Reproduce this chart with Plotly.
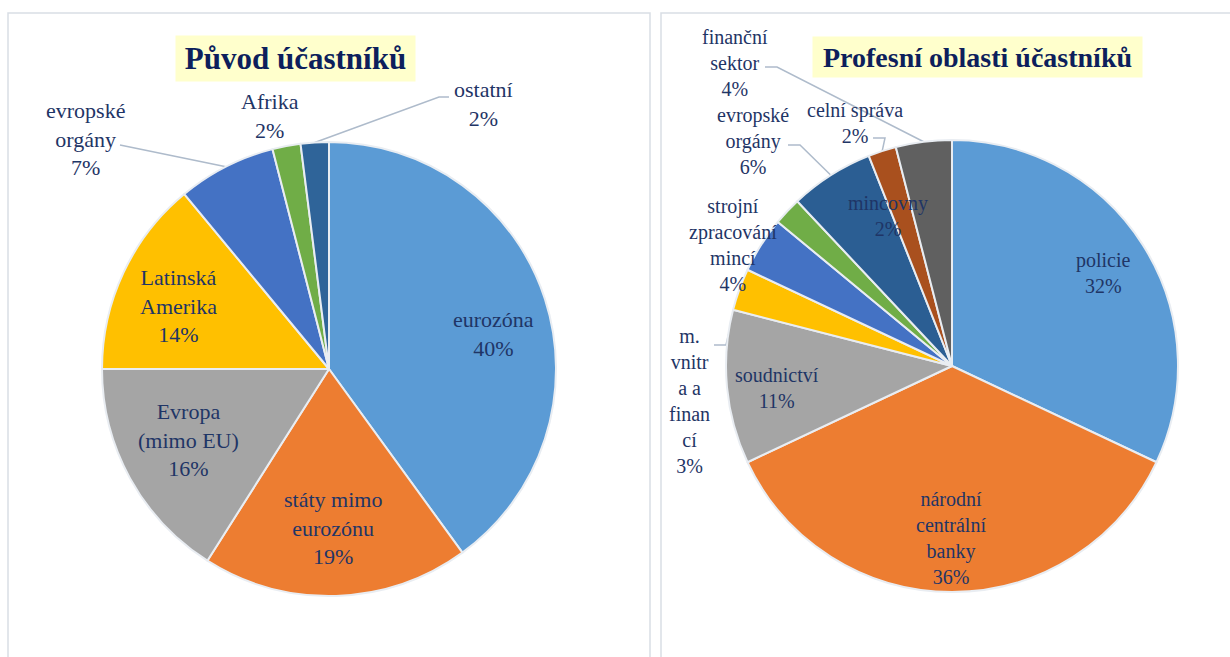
import math
import plotly.graph_objects as go

W, H = 1230, 657

# ---------------- data ----------------
origin_title = "Původ účastníků"
origin_categories = ["eurozóna", "státy mimo eurozónu", "Evropa (mimo EU)", "Latinská Amerika",
                     "evropské orgány", "Afrika", "ostatní"]
origin_values = [40, 19, 16, 14, 7, 2, 2]
origin_text = ["eurozóna", "státy mimo<br>eurozónu", "Evropa<br>(mimo EU)", "Latinská<br>Amerika",
               "evropské<br>orgány", "Afrika", "ostatní"]

prof_title = "Profesní oblasti účastníků"
prof_categories = ["policie", "národní centrální banky", "soudnictví", "m. vnitra a financí",
                   "strojní zpracování mincí", "mincovny", "evropské orgány", "celní správa",
                   "finanční sektor"]
prof_values = [32, 36, 11, 3, 4, 2, 6, 2, 4]
prof_text = ["policie", "národní<br>centrální<br>banky", "soudnictví", "m.<br>vnitr<br>a a<br>finan<br>cí",
             "strojní<br>zpracování<br>mincí", "mincovny", "evropské<br>orgány", "celní správa",
             "finanční<br>sektor"]

# ---------------- style ----------------
origin_colors = ["#5B9BD5", "#ED7D31", "#A5A5A5", "#FFC000", "#4472C4", "#70AD47", "#2F6499"]
prof_colors = ["#5B9BD5", "#ED7D31", "#A5A5A5", "#FFC000", "#4472C4", "#70AD47", "#2B5E93",
               "#A9501E", "#606060"]
TEXT_COLOR = "#1F3566"
TITLE_COLOR = "#0D1F5C"
FONT = "Liberation Serif"

# pie geometry in pixels: centre x, centre y, radius
PIE1 = (329, 369, 227)
PIE2 = (952, 366, 226)

# label placement: (radius factor, angle nudge in degrees) relative to slice mid-angle
origin_label_pos = [(0.743, 6.0), (0.70, 0.4), (0.695, 2.1), (0.72, -2.6),
                    (1.476, -19.7), (1.144, -2.3), (1.352, 33.9)]
prof_label_pos = [(0.785, 0.8), (0.761, 0.3), (0.78, -1.8), (1.17, -27.5), (1.107, -3.5),
                  (0.722, 23.7), (1.329, -9.1), (1.158, -3.8), (1.649, -28.4)]

# leader lines: slice index -> label-side points (px); tip is the slice's arc midpoint
origin_leaders = {4: [(120, 145)], 6: [(449, 97), (439, 97)]}
prof_leaders = {3: [(714, 345), (726, 345)], 6: [(788, 145), (800, 145)],
                7: [(873, 138), (885, 138)], 8: [(765, 67), (777, 67)]}


def px(x):
    return x / W


def py(y):
    return 1 - y / H


def mid_angles(values):
    tot = sum(values)
    out, cum = [], 0
    for v in values:
        out.append((cum + v / 2) / tot * 360)
        cum += v
    return out


def polar(geom, ang, rf):
    cx, cy, r = geom
    a = math.radians(ang)
    return cx + rf * r * math.sin(a), cy - rf * r * math.cos(a)


fig = go.Figure()
annotations = []
shapes = []

# panel boxes
for x0, x1 in [(8, 650), (661, 1240)]:
    shapes.append(dict(type="rect", xref="paper", yref="paper", x0=px(x0), x1=px(x1),
                       y0=py(700), y1=py(13), line=dict(color="#D9DEE5", width=1.5),
                       fillcolor="rgba(0,0,0,0)", layer="below"))


def add_pie(geom, cats, vals, texts, colors, label_pos, leaders, fsize):
    cx, cy, r = geom
    fig.add_trace(go.Pie(
        labels=cats, values=vals, sort=False, direction="clockwise", rotation=0,
        marker=dict(colors=colors, line=dict(color="#E9EDF2", width=2)),
        textinfo="none", hoverinfo="label+percent", showlegend=False,
        domain=dict(x=[px(cx - r), px(cx + r)], y=[py(cy + r), py(cy - r)]),
    ))
    tot = sum(vals)
    mids = mid_angles(vals)
    for i, (t, v) in enumerate(zip(texts, vals)):
        rf, dth = label_pos[i]
        lx, ly = polar(geom, mids[i] + dth, rf)
        annotations.append(dict(
            x=px(lx), y=py(ly), xref="paper", yref="paper", xanchor="center", yanchor="middle",
            text=f"{t}<br>{v / tot * 100:.0f}%", showarrow=False, align="center",
            font=dict(family=FONT, size=fsize, color=TEXT_COLOR)))
    for i, pts in leaders.items():
        tip = polar(geom, mids[i], 1.0)
        allp = pts + [tip]
        path = "M " + " L ".join(f"{px(x):.5f},{py(y):.5f}" for x, y in allp)
        shapes.append(dict(type="path", xref="paper", yref="paper", path=path,
                           line=dict(color="#AEBBCB", width=1.5), layer="below"))


add_pie(PIE1, origin_categories, origin_values, origin_text, origin_colors,
        origin_label_pos, origin_leaders, 22)
add_pie(PIE2, prof_categories, prof_values, prof_text, prof_colors,
        prof_label_pos, prof_leaders, 20)

# titles
for txt, cxp, cyp, w, h, size in [(origin_title, 295.5, 58.5, 239, 45, 31),
                                  (prof_title, 977, 57, 329, 40, 28)]:
    annotations.append(dict(
        x=px(cxp), y=py(cyp), xref="paper", yref="paper", xanchor="center", yanchor="middle",
        text=f"<b>{txt}</b>", showarrow=False, bgcolor="#FFFFCC", width=w, height=h,
        borderpad=0, font=dict(family=FONT, size=size, color=TITLE_COLOR)))

fig.update_layout(
    width=W, height=H, margin=dict(l=0, r=0, t=0, b=0),
    paper_bgcolor="white", plot_bgcolor="white",
    font=dict(family=FONT),
    annotations=annotations, shapes=shapes, showlegend=False,
)

fig.write_html("out.html", config={"displayModeBar": False},
               post_script="document.body.style.margin='0';document.body.style.overflow='hidden';")
